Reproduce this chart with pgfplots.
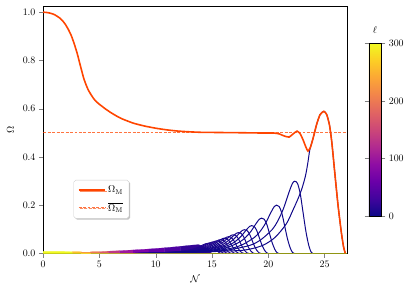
\documentclass[border=0pt]{standalone}
\usepackage{pgfplots}
\pgfplotsset{compat=1.18}
\usetikzlibrary{calc,shadows}
\definecolor{om}{RGB}{255,69,0}
\definecolor{pA}{RGB}{16,8,137}
\definecolor{pB}{RGB}{24,7,139}
\definecolor{pC}{RGB}{34,6,143}
\definecolor{q1}{RGB}{52,5,151}
\definecolor{q2}{RGB}{78,2,162}
\definecolor{q3}{RGB}{100,0,168}
\definecolor{q4}{RGB}{126,3,168}
\definecolor{q5}{RGB}{156,23,158}
\definecolor{q6}{RGB}{190,56,132}
\definecolor{q7}{RGB}{218,91,105}
\definecolor{q8}{RGB}{237,121,83}
\definecolor{q9}{RGB}{249,154,61}
\definecolor{q10}{RGB}{253,192,41}
\definecolor{q11}{RGB}{240,249,33}
\pgfplotsset{colormap={plasma}{rgb255=(13,8,135) rgb255=(65,4,157) rgb255=(106,0,168) rgb255=(143,13,164) rgb255=(177,42,144) rgb255=(204,71,120) rgb255=(225,100,98) rgb255=(242,132,75) rgb255=(252,166,54) rgb255=(252,206,37) rgb255=(240,249,33)}}
\begin{document}
\begin{tikzpicture}
\begin{axis}[
  name=main,
  scale only axis, width=305.8pt, height=249pt,
  xmin=0, xmax=27, ymin=0, ymax=1.026,
  xtick={0,5,10,15,20,25}, ytick={0,0.2,0.4,0.6,0.8,1.0},
  yticklabel style={/pgf/number format/.cd, fixed, fixed zerofill, precision=1},
  tick pos=left, tick align=outside,
  xlabel={$\mathcal{N}$}, ylabel={$\Omega$},
  xlabel style={at={(axis description cs:0.5,-0.105)}, anchor=center},
  ylabel style={at={(axis description cs:-0.108,0.5)}, anchor=center},
  colormap name=plasma, colorbar right, point meta min=0, point meta max=300,
  colorbar style={at={(parent axis.east)}, anchor=west, xshift=13.4pt,
    width=12.3pt, height=174pt, ytick={0,100,200,300}, tick align=outside,
    title={$\ell$}},
  legend style={at={(0.1,0.297)}, anchor=north west, draw=black!20, fill=white,
    rounded corners=2pt, drop shadow={shadow xshift=1.2pt, shadow yshift=-1.2pt, fill=black!40, opacity=0.6},
    font=\normalsize, row sep=4pt, inner xsep=4pt, inner ysep=4pt},
  legend cell align=left,
  legend image code/.code={\draw[#1] (0cm,0cm) -- (0.95cm,0cm);},
  bl/.style={line width=1pt, smooth, tension=0.5, no markers, forget plot},
  bd/.style={forget plot, line width=0.2pt, no markers},
]
% band of high-ell modes (dense)
\addplot[bd, fill=q11, draw=q11] coordinates {(0,0.008) (1.5,0.008) (2.6,0.007)} \closedcycle;
\addplot[bd, fill=q10, draw=q10] coordinates {(2.6,0.007) (3.4,0.0065)} \closedcycle;
\addplot[bd, fill=q9, draw=q9] coordinates {(3.4,0.0065) (4.2,0.0065)} \closedcycle;
\addplot[bd, fill=q8, draw=q8] coordinates {(4.2,0.0065) (5.0,0.007)} \closedcycle;
\addplot[bd, fill=q7, draw=q7] coordinates {(5.0,0.007) (5.8,0.009)} \closedcycle;
\addplot[bd, fill=q6, draw=q6] coordinates {(5.8,0.009) (6.8,0.011)} \closedcycle;
\addplot[bd, fill=q5, draw=q5] coordinates {(6.8,0.011) (8.0,0.014)} \closedcycle;
\addplot[bd, fill=q4, draw=q4] coordinates {(8.0,0.014) (9.4,0.018)} \closedcycle;
\addplot[bd, fill=q3, draw=q3] coordinates {(9.4,0.018) (10.8,0.023)} \closedcycle;
\addplot[bd, fill=q2, draw=q2] coordinates {(10.8,0.023) (12.2,0.029)} \closedcycle;
\addplot[bd, fill=q1, draw=q1] coordinates {(12.2,0.029) (13.2,0.034) (13.8,0.036) (14.2,0.03) (14.5,0.02) (14.8,0.008) (15.0,0)} \closedcycle;
% low-ell modes
\addplot[bl, pC] coordinates {(8.19,0.0008) (9.79,0.0018) (11.39,0.0045) (12.19,0.0078) (12.99,0.0135) (13.39,0.0185) (13.79,0.0254) (14.19,0.0349) (14.43,0.0398) (14.59,0.041) (14.79,0.0398) (14.99,0.0336) (15.19,0.023) (15.39,0.0123) (15.59,0.0045) (15.75,0.0008) (15.87,0)};
\addplot[bl, pC] coordinates {(8.46,0.0009) (10.06,0.002) (11.66,0.0048) (12.46,0.0084) (13.26,0.0145) (13.66,0.0198) (14.06,0.0273) (14.46,0.0374) (14.7,0.0427) (14.86,0.044) (15.06,0.0427) (15.26,0.0361) (15.46,0.0246) (15.66,0.0132) (15.86,0.0048) (16.02,0.0009) (16.14,0)};
\addplot[bl, pC] coordinates {(8.66,0.001) (10.28,0.0022) (11.9,0.0053) (12.71,0.0091) (13.52,0.0158) (13.925,0.0216) (14.33,0.0298) (14.735,0.0408) (14.978,0.0466) (15.14,0.048) (15.3425,0.0466) (15.545,0.0394) (15.7475,0.0269) (15.95,0.0144) (16.1525,0.0053) (16.3145,0.001) (16.436,0)};
\addplot[bl, pC] coordinates {(8.88,0.001) (10.52,0.0023) (12.16,0.0057) (12.98,0.0099) (13.8,0.0172) (14.21,0.0234) (14.62,0.0322) (15.03,0.0442) (15.276,0.0504) (15.44,0.052) (15.645,0.0504) (15.85,0.0426) (16.055,0.0291) (16.26,0.0156) (16.465,0.0057) (16.629,0.001) (16.752,0)};
\addplot[bl, pC] coordinates {(9.12,0.0011) (10.78,0.0026) (12.44,0.0063) (13.27,0.0108) (14.1,0.0188) (14.515,0.0257) (14.93,0.0353) (15.345,0.0485) (15.594,0.0553) (15.76,0.057) (15.9675,0.0553) (16.175,0.0467) (16.3825,0.0319) (16.59,0.0171) (16.7975,0.0063) (16.9635,0.0011) (17.088,0)};
\addplot[bl, pB] coordinates {(9.38,0.0013) (11.06,0.0028) (12.74,0.0069) (13.58,0.012) (14.42,0.0208) (14.84,0.0284) (15.26,0.0391) (15.68,0.0536) (15.932,0.0611) (16.1,0.063) (16.31,0.0611) (16.52,0.0517) (16.73,0.0353) (16.94,0.0189) (17.15,0.0069) (17.318,0.0013) (17.444,0)};
\addplot[bl, pB] coordinates {(9.67,0.0014) (11.37,0.0031) (13.07,0.0076) (13.92,0.0131) (14.77,0.0228) (15.195,0.0311) (15.62,0.0428) (16.045,0.0587) (16.3,0.0669) (16.47,0.069) (16.6825,0.0669) (16.895,0.0566) (17.1075,0.0386) (17.32,0.0207) (17.5325,0.0076) (17.7025,0.0014) (17.83,0)};
\addplot[bl, pB] coordinates {(10.0,0.0015) (11.72,0.0035) (13.44,0.0085) (14.3,0.0146) (15.16,0.0254) (15.59,0.0347) (16.02,0.0477) (16.45,0.0655) (16.708,0.0747) (16.88,0.077) (17.095,0.0747) (17.31,0.0631) (17.525,0.0431) (17.74,0.0231) (17.955,0.0085) (18.127,0.0015) (18.256,0)};
\addplot[bl, pB] coordinates {(10.31,0.0017) (12.07,0.0039) (13.83,0.0095) (14.71,0.0163) (15.59,0.0284) (16.03,0.0387) (16.47,0.0533) (16.91,0.0731) (17.174,0.0834) (17.35,0.086) (17.57,0.0834) (17.79,0.0705) (18.01,0.0482) (18.23,0.0258) (18.45,0.0095) (18.626,0.0017) (18.758,0)};
\addplot[bl, pB] coordinates {(10.68,0.002) (12.48,0.0044) (14.28,0.0108) (15.18,0.0186) (16.08,0.0323) (16.53,0.0441) (16.98,0.0608) (17.43,0.0833) (17.7,0.0951) (17.88,0.098) (18.105,0.0951) (18.33,0.0804) (18.555,0.0549) (18.78,0.0294) (19.005,0.0108) (19.185,0.002) (19.32,0)};
\addplot[bl, pA] coordinates {(11.16,0.0023) (13.0,0.0052) (14.84,0.0127) (15.76,0.0219) (16.68,0.038) (17.14,0.0518) (17.6,0.0713) (18.06,0.0978) (18.336,0.1116) (18.52,0.115) (18.75,0.1116) (18.98,0.0943) (19.21,0.0644) (19.44,0.0345) (19.67,0.0127) (19.854,0.0023) (19.992,0)};
\addplot[bl, pA] coordinates {(11.8,0.0029) (13.7,0.0066) (15.6,0.0161) (16.55,0.0277) (17.5,0.0482) (17.975,0.0657) (18.45,0.0905) (18.925,0.1241) (19.21,0.1416) (19.4,0.146) (19.6375,0.1416) (19.875,0.1197) (20.1125,0.0818) (20.35,0.0438) (20.5875,0.0161) (20.7775,0.0029) (20.92,0)};
\addplot[bl, pA] coordinates {(12.89,0.004) (14.85,0.009) (16.81,0.022) (17.79,0.038) (18.77,0.066) (19.26,0.09) (19.75,0.124) (20.24,0.17) (20.534,0.194) (20.73,0.2) (20.975,0.194) (21.22,0.164) (21.465,0.112) (21.71,0.06) (21.955,0.022) (22.151,0.004) (22.298,0)};
\addplot[bl, pA] coordinates {(14.35,0.006) (16.35,0.0135) (18.35,0.0329) (19.35,0.0568) (20.35,0.0987) (20.85,0.1346) (21.35,0.1854) (21.85,0.2542) (22.15,0.29) (22.35,0.299) (22.6,0.29) (22.85,0.2452) (23.1,0.1674) (23.35,0.0897) (23.6,0.0329) (23.8,0.006) (23.95,0)};
\addplot[bl, pA] coordinates {(12,0.003) (14,0.005) (16,0.009) (17.6,0.012) (18.6,0.02) (19.6,0.035) (20.6,0.066) (21.6,0.122) (22.2,0.18) (22.65,0.227) (23.0,0.27) (23.3,0.32) (23.5,0.37) (23.68,0.427) (23.75,0.44) (24.0,0.48) (24.3,0.535) (24.6,0.575) (24.94,0.589) (25.2,0.575) (25.45,0.53) (25.65,0.46) (25.9,0.34) (26.2,0.2) (26.5,0.085) (26.7,0.025) (26.85,0)};
\addplot[forget plot, q11, line width=0.6pt, opacity=0.6] coordinates {(0,0.0005) (27,0.0005)};
% Omega_M
\addplot[om, line width=1.6pt, smooth, tension=0.3, no markers] coordinates {
(0,1.0) (0.25,0.9994) (0.5,0.9975) (0.75,0.9945) (1.0,0.990) (1.25,0.983) (1.5,0.975) (1.75,0.963) (2.0,0.9475) (2.25,0.927) (2.5,0.9025) (2.75,0.870) (3.0,0.8325) (3.15,0.806) (3.3,0.7785) (3.45,0.752) (3.6,0.726) (3.8,0.700) (4.0,0.678) (4.25,0.658) (4.5,0.6405) (4.75,0.628) (5.0,0.618) (5.5,0.600) (6.0,0.584) (6.5,0.570) (7.0,0.558) (8.0,0.540) (9.0,0.528) (10,0.519) (11,0.512) (12,0.507) (13,0.504) (14,0.502) (16,0.501) (18,0.5) (19.5,0.499) (20.5,0.499) (21.0,0.495) (21.4,0.487) (21.85,0.482) (22.2,0.495) (22.56,0.507) (22.85,0.495) (23.1,0.47) (23.35,0.44) (23.53,0.424) (23.75,0.44) (24.0,0.48) (24.3,0.535) (24.6,0.575) (24.94,0.589) (25.2,0.575) (25.45,0.53) (25.65,0.46) (25.9,0.34) (26.2,0.2) (26.5,0.085) (26.7,0.025) (26.85,0)};
\addlegendentry{$\Omega_{\mathrm{M}}$}
\addplot[om, opacity=0.75, line width=0.8pt, dash pattern=on 3pt off 1.5pt] coordinates {(0,0.5) (27,0.5)};
\addlegendentry{$\overline{\Omega_{\mathrm{M}}}$}
\end{axis}
\path ($(main.south west)+(-43.5pt,-40pt)$) rectangle ($(main.north east)+(57.7pt,6pt)$);
\end{tikzpicture}
\end{document}
